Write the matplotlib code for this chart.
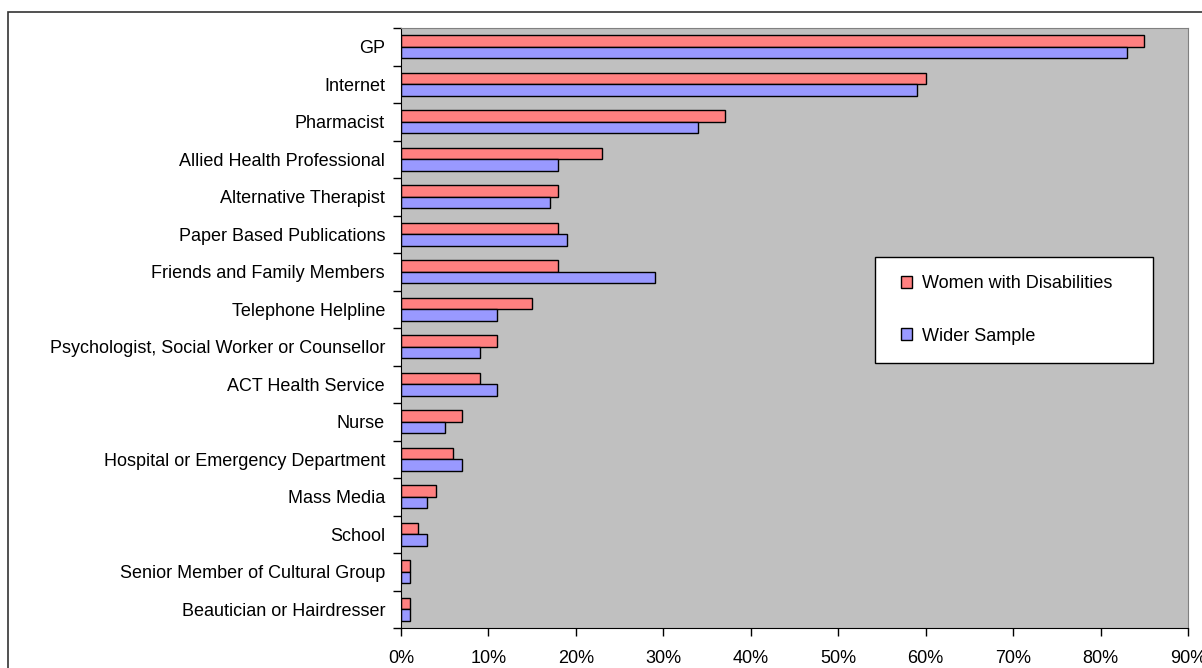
import numpy as np
import matplotlib
matplotlib.use("Agg")
import matplotlib.pyplot as plt
from matplotlib.patches import Rectangle
from matplotlib.ticker import PercentFormatter

categories = [
    "GP", "Internet", "Pharmacist", "Allied Health Professional",
    "Alternative Therapist", "Paper Based Publications",
    "Friends and Family Members", "Telephone Helpline",
    "Psychologist, Social Worker or Counsellor", "ACT Health Service",
    "Nurse", "Hospital or Emergency Department", "Mass Media", "School",
    "Senior Member of Cultural Group", "Beautician or Hairdresser",
]
women_disab = [85, 60, 37, 23, 18, 18, 18, 15, 11, 9, 7, 6, 4, 2, 1, 1]
wider_sample = [83, 59, 34, 18, 17, 19, 29, 11, 9, 11, 5, 7, 3, 3, 1, 1]
x_ticks = [0, 10, 20, 30, 40, 50, 60, 70, 80, 90]

plt.rcParams['font.family'] = ['Liberation Sans', 'DejaVu Sans']
FS = 13

W, H = 1202, 668
fig = plt.figure(figsize=(W / 100, H / 100), dpi=100)
ax = fig.add_axes([401 / W, 1 - 628 / H, 787 / W, 600 / H])

# outer chart frame (only top/left edges visible in the crop)
fig.patches.append(Rectangle((8 / W, -0.1), 1.2, 1.1 - 12 / H,
                             transform=fig.transFigure, fill=False,
                             edgecolor='#333333', linewidth=1.2))

y = np.arange(len(categories))
bh = 0.31
ax.barh(y - bh / 2, women_disab, height=bh, color='#FF8080',
        edgecolor='black', linewidth=1, label='Women with Disabilities')
ax.barh(y + bh / 2, wider_sample, height=bh, color='#9999FF',
        edgecolor='black', linewidth=1, label='Wider Sample')

ax.set_facecolor('#C0C0C0')
ax.set_xlim(0, 90)
ax.set_ylim(len(categories) - 0.5, -0.5)

ax.set_yticks(y)
ax.set_yticklabels(categories, fontsize=FS)
ax.set_yticks(np.arange(len(categories) + 1) - 0.5, minor=True)
ax.tick_params(axis='y', which='major', length=0, pad=11.5)
ax.tick_params(axis='y', which='minor', length=6, width=1, direction='out')

ax.set_xticks(x_ticks)
ax.xaxis.set_major_formatter(PercentFormatter(decimals=0))
ax.tick_params(axis='x', length=6, width=1, labelsize=FS, pad=10)

for s in ['top', 'right']:
    ax.spines[s].set_color('#808080')
for s in ['left', 'bottom']:
    ax.spines[s].set_color('black')

# legend box drawn separately so its size matches the original
ax.add_patch(Rectangle((0.602, 0.442), 0.353, 0.177, transform=ax.transAxes,
                       facecolor='white', edgecolor='black', linewidth=1,
                       zorder=4))
ax.legend(loc='center left', bbox_to_anchor=(0.635, 0.53), frameon=False,
          fontsize=FS, handlelength=0.65, handleheight=0.65,
          handletextpad=0.5, labelspacing=1.95, borderpad=0,
          borderaxespad=0)

fig.savefig("out.png", dpi=100)
